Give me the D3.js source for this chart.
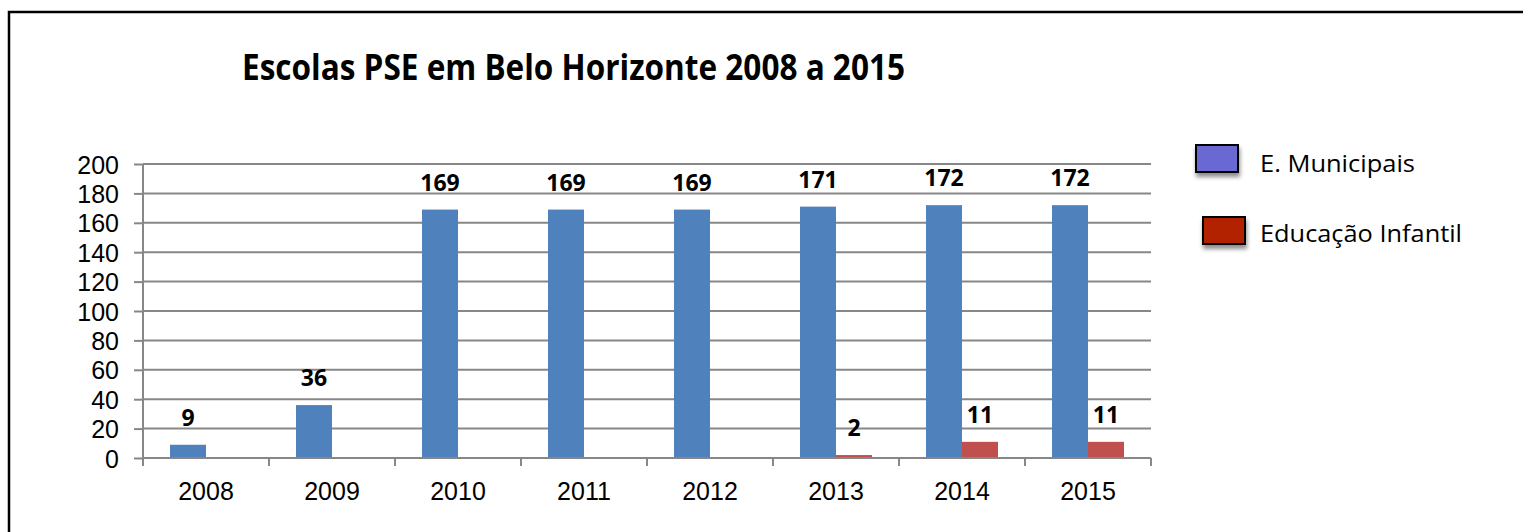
<!DOCTYPE html>
<meta charset="utf-8">
<script src="https://d3js.org/d3.v7.min.js"></script>
<style>
  body { margin: 0; background: #fff; }
</style>
<div id="chart"></div>
<script>

  // data
  var years = ["2008", "2009", "2010", "2011", "2012", "2013", "2014", "2015"];
  var seriesNames = ["E. Municipais", "Educação Infantil"];
  var municipais = [9, 36, 169, 169, 169, 171, 172, 172];
  var infantil = [0, 0, 0, 0, 0, 2, 11, 11];
  var yTicks = [0, 20, 40, 60, 80, 100, 120, 140, 160, 180, 200];
  var title = "Escolas PSE em Belo Horizonte 2008 a 2015";

  var barColors = ["#4F81BD", "#C0504D"];
  var legendColors = ["#6B69D3", "#B22200"];

  var W = 1523, H = 532;
  var margin = {top: 164, right: 372, bottom: 74, left: 143},
    width = W - margin.left - margin.right,
    height = H - margin.top - margin.bottom;

  var svg = d3.select("#chart")
    .append("svg")
    .attr("width", W)
    .attr("height", H);

  // drop shadow for legend swatches
  var defs = svg.append("defs");
  defs.append("filter")
    .attr("id", "shadow")
    .attr("x", "-30%").attr("y", "-30%")
    .attr("width", "170%").attr("height", "190%")
    .append("feDropShadow")
    .attr("dx", 1).attr("dy", 4)
    .attr("stdDeviation", 2)
    .attr("flood-color", "#000")
    .attr("flood-opacity", 0.45);

  // outer frame (only top and left edges are visible)
  svg.append("rect")
    .attr("x", 9).attr("y", 12)
    .attr("width", 1600).attr("height", 800)
    .attr("fill", "none")
    .attr("stroke", "#000")
    .attr("stroke-width", 2.5);

  // title
  svg.append("text")
    .attr("x", 242)
    .attr("y", 80)
    .attr("textLength", 663)
    .attr("lengthAdjust", "spacingAndGlyphs")
    .style("font-family", "'Open Sans', sans-serif")
    .style("font-weight", "bold")
    .style("font-size", "35px")
    .text(title);

  var g = svg.append("g")
    .attr("transform", "translate(" + margin.left + "," + margin.top + ")");

  // scales
  var x0 = d3.scaleBand()
    .domain(years)
    .range([0, width])
    .padding(0);

  var x1 = d3.scaleBand()
    .domain(seriesNames)
    .range([0, x0.bandwidth()])
    .paddingInner(0)
    .paddingOuter(0.75);

  var y = d3.scaleLinear()
    .domain([0, 200])
    .range([height, 0]);

  var axisGray = "#878787";

  // gridlines
  g.append("g")
    .selectAll("line")
    .data(yTicks.filter(function (d) { return d > 0; }))
    .enter()
    .append("line")
    .attr("x1", 0).attr("x2", width)
    .attr("y1", function (d) { return y(d); })
    .attr("y2", function (d) { return y(d); })
    .attr("stroke", axisGray)
    .attr("stroke-width", 2);

  // Y axis
  var yAxis = g.append("g")
    .call(d3.axisLeft(y).tickValues(yTicks).tickSize(9).tickPadding(15));
  yAxis.select(".domain").attr("stroke", axisGray).attr("stroke-width", 2)
    .attr("d", "M0," + (height + 8) + "V0");
  yAxis.selectAll(".tick line").attr("stroke", axisGray).attr("stroke-width", 2);
  yAxis.selectAll(".tick text")
    .style("font-family", "'Liberation Sans', Arial, sans-serif")
    .style("font-size", "25px")
    .attr("fill", "#000")
    .attr("dy", "0.36em");

  // bars
  var table = years.map(function (yr, i) {
    return {year: yr, values: [
      {key: seriesNames[0], value: municipais[i], idx: 0},
      {key: seriesNames[1], value: infantil[i], idx: 1}
    ]};
  });

  var groups = g.append("g")
    .selectAll("g")
    .data(table)
    .enter()
    .append("g")
    .attr("transform", function (d) { return "translate(" + x0(d.year) + ",0)"; });

  groups.selectAll("rect")
    .data(function (d) { return d.values; })
    .enter()
    .append("rect")
    .attr("x", function (d) { return x1(d.key); })
    .attr("width", x1.bandwidth())
    .attr("y", function (d) { return y(d.value); })
    .attr("height", function (d) { return height - y(d.value); })
    .attr("fill", function (d) { return barColors[d.idx]; });

  // value labels
  groups.selectAll("text")
    .data(function (d) { return d.values.filter(function (v) { return v.value > 0; }); })
    .enter()
    .append("text")
    .attr("x", function (d) { return x1(d.key) + x1.bandwidth() / 2; })
    .attr("y", function (d) { return y(d.value) - 19; })
    .attr("text-anchor", "middle")
    .style("font-family", "'Open Sans', sans-serif")
    .style("font-weight", "bold")
    .style("font-size", "23px")
    .text(function (d) { return d.value; });

  // X axis line + boundary ticks
  var xAxis = g.append("g").attr("transform", "translate(0," + height + ")");
  xAxis.append("line")
    .attr("x1", 0).attr("x2", width)
    .attr("stroke", axisGray).attr("stroke-width", 2);
  xAxis.selectAll(".xt")
    .data(years.map(function (d) { return x0(d); }).concat([width]))
    .enter()
    .append("line")
    .attr("class", "xt")
    .attr("x1", function (d) { return d; })
    .attr("x2", function (d) { return d; })
    .attr("y1", 0).attr("y2", 8)
    .attr("stroke", axisGray).attr("stroke-width", 2);
  xAxis.selectAll("text")
    .data(years)
    .enter()
    .append("text")
    .attr("x", function (d) { return x0(d) + x0.bandwidth() / 2; })
    .attr("y", 42)
    .attr("text-anchor", "middle")
    .style("font-family", "'Liberation Sans', Arial, sans-serif")
    .style("font-size", "25px")
    .text(function (d) { return d; });

  // legend
  var legend = svg.append("g");
  var legendPos = [{sx: 1196, sy: 145, ty: 172, len: 155}, {sx: 1203, sy: 217, ty: 242, len: 202}];
  seriesNames.forEach(function (name, i) {
    legend.append("rect")
      .attr("x", legendPos[i].sx).attr("y", legendPos[i].sy)
      .attr("width", 42).attr("height", 27)
      .attr("fill", legendColors[i])
      .attr("stroke", "#000")
      .attr("stroke-width", 2)
      .attr("filter", "url(#shadow)");
    legend.append("text")
      .attr("x", 1260).attr("y", legendPos[i].ty)
      .attr("textLength", legendPos[i].len)
      .attr("lengthAdjust", "spacingAndGlyphs")
      .style("font-family", "'Open Sans', sans-serif")
      .style("font-size", "24px")
      .text(name);
  });

</script>
